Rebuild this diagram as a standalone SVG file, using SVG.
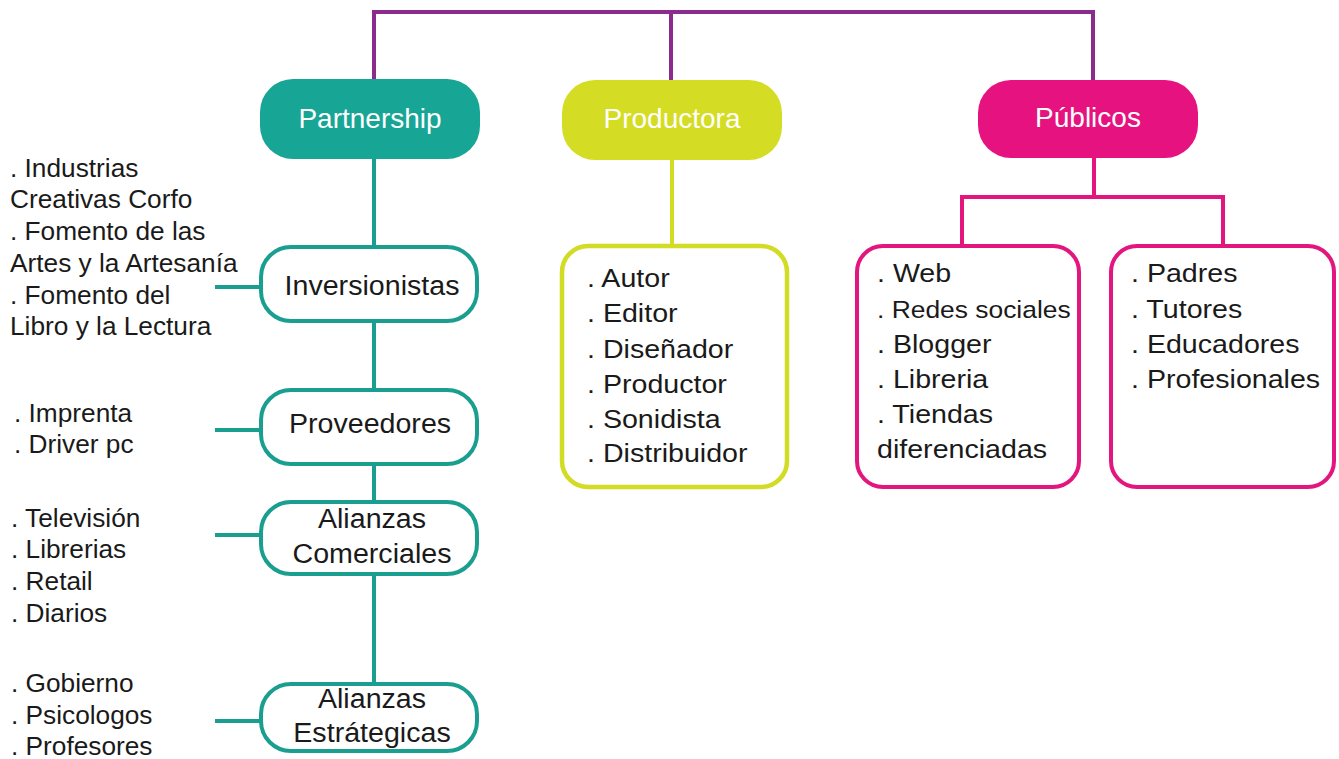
<svg xmlns="http://www.w3.org/2000/svg" width="1339" height="759" viewBox="0 0 1339 759">
<style>
.t{font-family:"Liberation Sans",Arial,sans-serif;fill:#1a1a1a}
.hd{font-family:"Liberation Sans",Arial,sans-serif;font-size:28px;fill:#ffffff;text-anchor:middle}
.lbl{font-family:"Liberation Sans",Arial,sans-serif;font-size:27px;fill:#1a1a1a;text-anchor:middle}
.ls{font-size:25px}
.rs{font-size:26px}
.tealbox{fill:#ffffff;stroke:#1a9e90;stroke-width:4}
.limebox{fill:#ffffff;stroke:#d3dc24;stroke-width:4.5}
.pinkbox{fill:#ffffff;stroke:#e3157f;stroke-width:4}
.teal{stroke:#1a9e90;stroke-width:4;fill:none}
.lime{stroke:#d3dc24;stroke-width:4;fill:none}
.pink{stroke:#e3157f;stroke-width:4;fill:none}
.purple{stroke:#8b2b8d;stroke-width:4;fill:none}
</style>
<rect width="1339" height="759" fill="#ffffff"/>
<g id="connectors">
<path class="purple" d="M374 80 V12 H1093 V80 M671 12 V80"/>
<path class="teal" d="M374 158 V686"/>
<path class="teal" d="M215 287 H261 M215 430 H261 M215 535 H261 M215 721 H261"/>
<path class="lime" d="M672 158 V246"/>
<path class="pink" d="M1094 158 V197 M962 246 V197 H1223 V246"/>
</g>
<g id="partnership">
<rect x="260" y="79" width="220" height="80" rx="33" fill="#17a596"/>
<text class="hd" x="370" y="128">Partnership</text>
</g>
<g id="productora">
<rect x="562" y="80" width="220" height="80" rx="33" fill="#d4dd23"/>
<text class="hd" x="672" y="128">Productora</text>
</g>
<g id="publicos">
<rect x="978" y="80" width="220" height="78" rx="33" fill="#e6127f"/>
<text class="hd" x="1088" y="127">Públicos</text>
</g>
<g id="inversionistas">
<rect class="tealbox" x="261" y="247" width="216" height="74" rx="30"/>
<text class="lbl" transform="translate(372,0) scale(1.06,1)" x="0" y="295">Inversionistas</text>
</g>
<g id="inversionistas-list" class="t ls" transform="translate(10,0) scale(1.05,1)">
<text x="0" y="177">. Industrias</text>
<text x="0" y="208">Creativas Corfo</text>
<text x="0" y="240">. Fomento de las</text>
<text x="0" y="272">Artes y la Artesanía</text>
<text x="0" y="304">. Fomento del</text>
<text x="0" y="335">Libro y la Lectura</text>
</g>
<g id="proveedores">
<rect class="tealbox" x="261" y="390" width="216" height="74" rx="30"/>
<text class="lbl" transform="translate(370,0) scale(1.06,1)" x="0" y="433">Proveedores</text>
</g>
<g id="proveedores-list" class="t ls" transform="translate(14,0) scale(1.05,1)">
<text x="0" y="422">. Imprenta</text>
<text x="0" y="453">. Driver pc</text>
</g>
<g id="alianzas-comerciales">
<rect class="tealbox" x="261" y="502" width="216" height="72" rx="30"/>
<text class="lbl" transform="translate(372,0) scale(1.06,1)" x="0" y="528">Alianzas</text>
<text class="lbl" transform="translate(372,0) scale(1.06,1)" x="0" y="563">Comerciales</text>
</g>
<g id="alianzas-comerciales-list" class="t ls" transform="translate(11,0) scale(1.05,1)">
<text x="0" y="527">. Televisión</text>
<text x="0" y="558">. Librerias</text>
<text x="0" y="590">. Retail</text>
<text x="0" y="622">. Diarios</text>
</g>
<g id="alianzas-estrategicas">
<rect class="tealbox" x="261" y="684" width="216" height="67" rx="30"/>
<text class="lbl" transform="translate(372,0) scale(1.06,1)" x="0" y="708">Alianzas</text>
<text class="lbl" transform="translate(372,0) scale(1.06,1)" x="0" y="742">Estrátegicas</text>
</g>
<g id="alianzas-estrategicas-list" class="t ls" transform="translate(11,0) scale(1.05,1)">
<text x="0" y="692">. Gobierno</text>
<text x="0" y="724">. Psicologos</text>
<text x="0" y="755">. Profesores</text>
</g>
<g id="productora-list">
<rect class="limebox" x="562" y="246" width="225" height="241" rx="26"/>
<g class="t rs" transform="translate(587,0) scale(1.1,1)">
<text x="0" y="287">. Autor</text>
<text x="0" y="322">. Editor</text>
<text x="0" y="358">. Diseñador</text>
<text x="0" y="393">. Productor</text>
<text x="0" y="428">. Sonidista</text>
<text x="0" y="462">. Distribuidor</text>
</g>
</g>
<g id="canales">
<rect class="pinkbox" x="857" y="246" width="222" height="241" rx="26"/>
<g class="t rs" transform="translate(877,0) scale(1.1,1)">
<text x="0" y="282">. Web</text>
<text x="0" y="318" style="font-size:24px">. Redes sociales</text>
<text x="0" y="353">. Blogger</text>
<text x="0" y="388">. Libreria</text>
<text x="0" y="423">. Tiendas</text>
<text x="0" y="458">diferenciadas</text>
</g>
</g>
<g id="audiencias">
<rect class="pinkbox" x="1111" y="246" width="223" height="241" rx="26"/>
<g class="t rs" transform="translate(1131,0) scale(1.1,1)">
<text x="0" y="282">. Padres</text>
<text x="0" y="318">. Tutores</text>
<text x="0" y="353">. Educadores</text>
<text x="0" y="388">. Profesionales</text>
</g>
</g>
</svg>
